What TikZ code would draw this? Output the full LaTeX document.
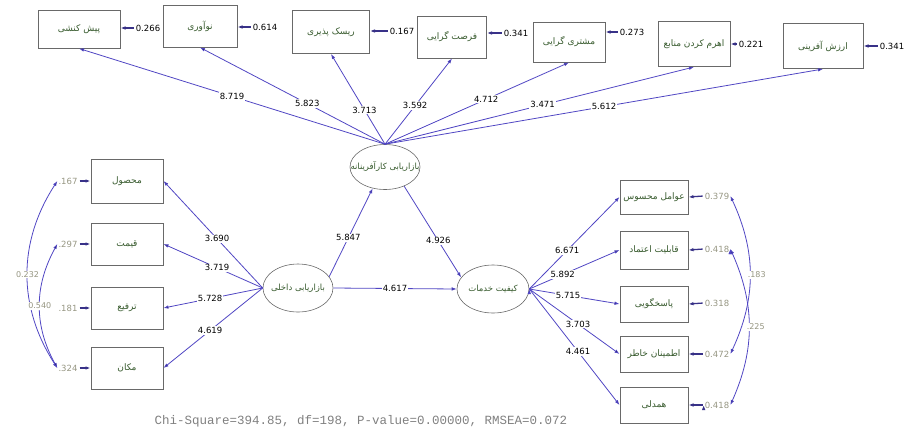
\documentclass[tikz,border=0pt]{standalone}
\usepackage{fontspec}
\setmainfont{DejaVu Sans}
\setmonofont{Liberation Mono}
\newfontfamily\fafont[Script=Arabic]{DejaVu Sans}
\usetikzlibrary{shapes.geometric,arrows.meta}
\TeXXeTstate=1

\definecolor{pathblue}{RGB}{80,70,195}
\definecolor{boxgray}{RGB}{105,105,105}
\definecolor{txtgreen}{RGB}{55,90,45}
\definecolor{faint}{RGB}{150,150,130}

\newcommand{\fatxt}[1]{{\fafont\beginR #1\endR}}

\begin{document}
\begin{tikzpicture}[x=1pt,y=-1pt,>={Latex[length=5pt,width=3.6pt]},
  ind node/.style={rectangle,draw=boxgray,line width=1pt,minimum width=72pt,
    minimum height=40pt,inner sep=1pt,text=txtgreen,font=\fontsize{9}{10}\selectfont},
  lat node/.style={ellipse,draw=boxgray,line width=0.6pt,minimum width=70pt,
    minimum height=48pt,inner sep=0pt,text=txtgreen,font=\fontsize{8.5}{10}\selectfont},
  err node/.style={inner sep=1pt,font=\fontsize{8.5}{9}\selectfont},
  faint node/.style={err node,text=faint},
  lbl/.style={fill=white,inner sep=1pt,font=\fontsize{8.5}{9}\selectfont},
  cov lbl/.style={fill=white,inner sep=0.5pt,text=faint,font=\fontsize{8}{9}\selectfont},
  load line/.style={draw=pathblue,line width=0.8pt},
  err line/.style={draw=pathblue!70!black,line width=1.3pt,shorten <=1pt},
  cov line/.style={draw=pathblue,line width=0.8pt}]

  \useasboundingbox (0,0) rectangle (910,432);

  % top indicators
  \node[ind node,minimum width=82pt,minimum height=38pt] (pish) at (79,29) {\fatxt{پیش کنشی}};
  \node[ind node,minimum width=74pt,minimum height=42pt] (noav) at (200,26) {\fatxt{نوآوری}};
  \node[ind node,minimum width=77pt,minimum height=43pt] (risk) at (331,32) {\fatxt{ریسک پذیری}};
  \node[ind node,minimum width=69pt,minimum height=42pt] (forsat) at (452,37) {\fatxt{فرصت گرایی}};
  \node[ind node] (moshtari) at (569,42) {\fatxt{مشتری گرایی}};
  \node[ind node,minimum height=45pt] (ahrom) at (694,44) {\fatxt{اهرم کردن منابع}};
  \node[ind node,minimum width=80pt,minimum height=45pt] (arzesh) at (823,46) {\fatxt{ارزش آفرینی}};

  \node[err node] (e-pish) at (148,28) {0.266};
  \node[err node] (e-noav) at (265,27) {0.614};
  \node[err node] (e-risk) at (402,31) {0.167};
  \node[err node] (e-forsat) at (516,33) {0.341};
  \node[err node] (e-moshtari) at (632,32) {0.273};
  \node[err node] (e-ahrom) at (751,44) {0.221};
  \node[err node] (e-arzesh) at (892,46) {0.341};

  % latent variables
  \node[lat node,minimum height=45pt] (ekar) at (385,167) {\makebox[40pt]{\fatxt{بازاریابی کارآفرینانه}}};
  \node[lat node] (eint) at (298,288) {\makebox[40pt]{\fatxt{بازاریابی داخلی}}};
  \node[lat node,minimum width=72pt] (ekyf) at (493,289) {\makebox[40pt]{\fatxt{کیفیت خدمات}}};

  % left indicators
  \node[ind node,minimum height=44pt] (mahsul) at (127,181) {\fatxt{محصول}};
  \node[ind node,minimum height=42pt] (gheymat) at (127,244) {\fatxt{قیمت}};
  \node[ind node,minimum height=42pt] (tarfi) at (127,308) {\fatxt{ترفیع}};
  \node[ind node,minimum height=42pt] (makan) at (127,368) {\fatxt{مکان}};

  \node[faint node] (e-mahsul) at (68,181) {.167};
  \node[faint node] (e-gheymat) at (68,244) {.297};
  \node[faint node] (e-tarfi) at (68,308) {.181};
  \node[faint node] (e-makan) at (68,368) {.324};

  % right indicators
  \node[ind node,minimum width=68pt,minimum height=34pt] (avamel) at (654,197) {\fatxt{عوامل محسوس}};
  \node[ind node,minimum width=68pt,minimum height=38pt] (etemad) at (654,250) {\fatxt{قابلیت اعتماد}};
  \node[ind node,minimum width=68pt,minimum height=36pt] (pasokh) at (654,304) {\fatxt{پاسخگویی}};
  \node[ind node,minimum width=68pt,minimum height=36pt] (etminan) at (654,354) {\fatxt{اطمینان خاطر}};
  \node[ind node,minimum width=68pt,minimum height=36pt] (hamdeli) at (654,405) {\fatxt{همدلی}};

  \node[faint node] (e-avamel) at (717,196) {0.379};
  \node[faint node] (e-etemad) at (717,249) {0.418};
  \node[faint node] (e-pasokh) at (717,303) {0.318};
  \node[faint node] (e-etminan) at (717,354) {0.472};
  \node[faint node] (e-hamdeli) at (717,405) {0.418};

  % fit statistics
  \node[text=gray,font=\fontsize{12.5}{14}\ttfamily] (fit) at (361,421)
    {Chi-Square=394.85, df=198, P-value=0.00000, RMSEA=0.072};

  \path[->,load line]
  (ekar.north) edge node[lbl,pos=0.5] {8.719} (pish.south)
  (ekar.north) edge node[lbl,pos=0.42] {5.823} (noav.south)
  (ekar.north) edge node[lbl,pos=0.38] {3.713} (risk.south)
  (ekar.north) edge node[lbl,pos=0.45] {3.592} (forsat.south)
  (ekar.north) edge node[lbl,pos=0.55] {4.712} (moshtari.south)
  (ekar.north) edge node[lbl,pos=0.51] {3.471} (ahrom.south)
  (ekar.north) edge node[lbl,pos=0.5] {5.612} (arzesh.south)
  (eint.20) edge node[lbl,pos=0.44] {5.847} (ekar.240)
  (ekar.315) edge node[lbl,pos=0.6] {4.926} (ekyf.160)
  (eint.east) edge node[lbl] {4.617} (ekyf.west)
  (eint.west) edge node[lbl,pos=0.46] {3.690} (mahsul.east)
  (eint.west) edge node[lbl,pos=0.46] {3.719} (gheymat.east)
  (eint.west) edge node[lbl,pos=0.53] {5.728} (tarfi.east)
  (eint.west) edge node[lbl,pos=0.53] {4.619} (makan.east)
  (ekyf.east) edge node[lbl,pos=0.42] {6.671} (avamel.west)
  (ekyf.east) edge node[lbl,pos=0.37] {5.892} (etemad.west)
  (ekyf.east) edge node[lbl,pos=0.43] {5.715} (pasokh.west)
  (ekyf.east) edge node[lbl,pos=0.54] {3.703} (etminan.west)
  (ekyf.east) edge node[lbl,pos=0.54] {4.461} (hamdeli.west);

  \path[->,err line]
  (e-pish.west) edge (e-pish.west -| pish.east)
  (e-noav.west) edge (e-noav.west -| noav.east)
  (e-risk.west) edge (e-risk.west -| risk.east)
  (e-forsat.west) edge (e-forsat.west -| forsat.east)
  (e-moshtari.west) edge (e-moshtari.west -| moshtari.east)
  (e-ahrom.west) edge (e-ahrom.west -| ahrom.east)
  (e-arzesh.west) edge (e-arzesh.west -| arzesh.east)
  (e-mahsul.east) edge (mahsul.west)
  (e-gheymat.east) edge (gheymat.west)
  (e-tarfi.east) edge (tarfi.west)
  (e-makan.east) edge (makan.west)
  (e-avamel.west) edge (avamel.east)
  (e-etemad.west) edge (etemad.east)
  (e-pasokh.west) edge (pasokh.east)
  (e-etminan.west) edge (etminan.east)
  (e-hamdeli.west) edge (hamdeli.east);

  \path[<->,cov line]
  (e-mahsul.west) edge[bend right=33] node[cov lbl] {0.232} (e-makan.west)
  (e-gheymat.west) edge[bend right=29] node[cov lbl] {0.540} (e-makan.west)
  (e-avamel.east) edge[bend left=25] node[cov lbl,anchor=west,xshift=-3pt] {.183} (e-etminan.east)
  (e-etemad.east) edge[bend left=24] node[cov lbl,anchor=west,xshift=-3pt] {.225} (e-hamdeli.east);

\end{tikzpicture}
\end{document}
